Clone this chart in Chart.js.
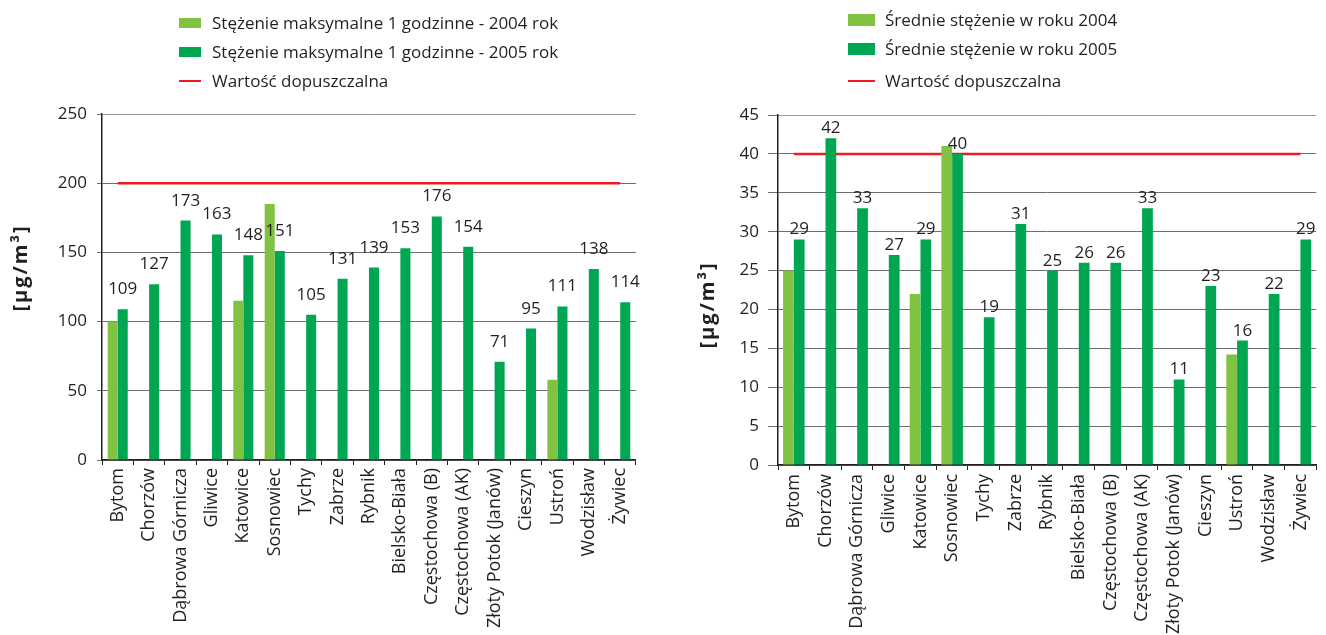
<!DOCTYPE html>
<html lang="pl">
<head>
<meta charset="utf-8">
<title>Stężenia - wykresy</title>
<script src="https://cdn.jsdelivr.net/npm/chart.js@4.4.1/dist/chart.umd.min.js"></script>
<style>
  body { margin: 0; background: #fff; font-family: "Open Sans", sans-serif; color: #231f20; }
  #page { position: relative; width: 1326px; height: 635px; overflow: hidden; }
  canvas { position: absolute; top: 0; }
  #leftChart { left: 0; }
  #rightChart { left: 690px; }
  .legend { position: absolute; font-size: 17px; }
  .legend .row { position: absolute; left: 0; height: 22px; line-height: 22px; white-space: nowrap; }
  .legend .sw { position: absolute; left: 0; }
</style>
</head>
<body>
<div id="page">
  <canvas id="leftChart" width="645" height="635"></canvas>
  <canvas id="rightChart" width="636" height="635"></canvas>
  <div class="legend" id="leftLegend" style="left:179px; top:0;"></div>
  <div class="legend" id="rightLegend" style="left:848px; top:0;"></div>
</div>

<script>
  // categories (same for both charts)
  var cities = ['Bytom', 'Chorzów', 'Dąbrowa Górnicza', 'Gliwice', 'Katowice', 'Sosnowiec', 'Tychy',
    'Zabrze', 'Rybnik', 'Bielsko-Biała', 'Częstochowa (B)', 'Częstochowa (AK)', 'Złoty Potok (Janów)',
    'Cieszyn', 'Ustroń', 'Wodzisław', 'Żywiec'];

  // left chart - 1h max
  var max2004 = [100, null, null, null, 115, 185, null, null, null, null, null, null, null, null, 58, null, null];
  var max2005 = [109, 127, 173, 163, 148, 151, 105, 131, 139, 153, 176, 154, 71, 95, 111, 138, 114];
  var limitMax = [200, 200, 200, 200, 200, 200, 200, 200, 200, 200, 200, 200, 200, 200, 200, 200, 200];

  // right chart - yearly average
  var avg2004 = [25, null, null, null, 22, 41, null, null, null, null, null, null, null, null, 14.2, null, null];
  var avg2005 = [29, 42, 33, 27, 29, 40, 19, 31, 25, 26, 26, 33, 11, 23, 16, 22, 29];
  var limitAvg = [40, 40, 40, 40, 40, 40, 40, 40, 40, 40, 40, 40, 40, 40, 40, 40, 40];

  var leftNames = ['Stężenie maksymalne 1 godzinne - 2004 rok', 'Stężenie maksymalne 1 godzinne - 2005 rok', 'Wartość dopuszczalna'];
  var rightNames = ['Średnie stężenie w roku 2004', 'Średnie stężenie w roku 2005', 'Wartość dopuszczalna'];
  var unitLabel = '[µg/m³]';

  var light = '#80c342';
  var dark = '#00a651';
  var red = '#ed1c24';
  var ink = '#231f20';

  // numbers above the 2005 bars + rotated unit label
  var extraText = {
    id: 'extraText',
    afterDatasetsDraw: function(chart, args, opts) {
      var meta = chart.getDatasetMeta(1);
      var vals = chart.data.datasets[1].data;
      var ctx = chart.ctx;
      ctx.save();
      ctx.font = '17px "Open Sans"';
      ctx.fillStyle = ink;
      ctx.textAlign = 'center';
      ctx.textBaseline = 'alphabetic';
      meta.data.forEach(function(bar, i) {
        if (vals[i] == null) return;
        ctx.fillText(String(vals[i]), bar.x, bar.y - opts.gap);
      });
      ctx.restore();

      ctx.save();
      ctx.translate(opts.unitX, opts.unitY);
      ctx.rotate(-Math.PI / 2);
      ctx.font = 'bold 20px "Open Sans"';
      if ('letterSpacing' in ctx) ctx.letterSpacing = '2px';
      ctx.fillStyle = ink;
      ctx.textAlign = 'center';
      ctx.textBaseline = 'middle';
      ctx.fillText(unitLabel, 0, 0);
      ctx.restore();
    }
  };

  function makeChart(el, opt) {
    var n = cities.length;
    return new Chart(el, {
      type: 'bar',
      data: {
        labels: cities,
        datasets: [{
          label: opt.names[0],
          data: opt.d2004,
          backgroundColor: light,
          categoryPercentage: opt.catPct,
          barPercentage: 1,
          order: 1
        }, {
          label: opt.names[1],
          data: opt.d2005,
          backgroundColor: dark,
          categoryPercentage: opt.catPct,
          barPercentage: 1,
          order: 1
        }, {
          type: 'line',
          label: opt.names[2],
          data: opt.limit,
          borderColor: red,
          borderWidth: 2.5,
          pointRadius: 0,
          fill: false,
          order: 2
        }]
      },
      options: {
        responsive: false,
        animation: false,
        layout: { padding: { top: opt.top, right: opt.padRight, bottom: 0, left: 0 } },
        plugins: {
          legend: { display: false },
          tooltip: { enabled: false },
          extraText: { gap: opt.gap, unitX: opt.unitX, unitY: opt.unitY }
        },
        scales: {
          x: {
            ticks: {
              autoSkip: false, maxRotation: 90, minRotation: 90,
              color: ink, font: { family: '"Open Sans"', size: 18 }, padding: opt.xPad
            },
            grid: {
              offset: true,
              drawOnChartArea: true,
              color: function(c) { return (opt.rightBorder && c.index === n) ? '#9a9a9a' : 'rgba(0,0,0,0)'; },
              tickColor: ink,
              tickLength: 5
            },
            border: { color: ink, width: 1.5 },
            afterFit: function(s) { s.height = opt.xHeight; }
          },
          y: {
            min: 0, max: opt.max,
            ticks: { stepSize: opt.step, color: ink, font: { family: '"Open Sans"', size: 17 }, padding: opt.tickPad },
            grid: {
              color: function(c) { return c.tick && c.tick.value === opt.max ? '#9a9a9a' : '#6d6e71'; },
              tickColor: '#6d6e71',
              tickLength: opt.tickLen
            },
            border: { color: ink, width: 1.5 },
            afterFit: function(s) { s.width = opt.yWidth; }
          }
        }
      },
      plugins: [extraText]
    });
  }

  makeChart(document.getElementById('leftChart'), {
    names: leftNames, d2004: max2004, d2005: max2005, limit: limitMax,
    max: 250, step: 50, top: 114, padRight: 6, xHeight: 175, yWidth: 102,
    tickLen: 5, tickPad: 10, gap: 15, catPct: 0.64, xPad: 3, rightBorder: true,
    unitX: 21, unitY: 268
  });

  makeChart(document.getElementById('rightChart'), {
    names: rightNames, d2004: avg2004, d2005: avg2005, limit: limitAvg,
    max: 45, step: 5, top: 115, padRight: 0, xHeight: 170, yWidth: 88,
    tickLen: 10, tickPad: 9, gap: 5, catPct: 0.68, xPad: 4, rightBorder: false,
    unitX: 18, unitY: 305
  });

  // legends
  function buildLegend(id, names, rows, sw) {
    var box = document.getElementById(id);
    var colors = [light, dark, red];
    names.forEach(function(name, i) {
      var row = document.createElement('div');
      row.className = 'row';
      row.style.top = (rows[i] - 11) + 'px';
      row.style.paddingLeft = sw.textX + 'px';
      row.textContent = name;
      var s = document.createElement('span');
      s.className = 'sw';
      var h = i < 2 ? sw.h : 2;
      s.style.width = sw.w + 'px';
      s.style.height = h + 'px';
      s.style.top = (11 - h / 2) + 'px';
      s.style.background = colors[i];
      row.appendChild(s);
      box.appendChild(row);
    });
  }
  buildLegend('leftLegend', leftNames, [23, 52, 81], { w: 22, h: 10, textX: 33 });
  buildLegend('rightLegend', rightNames, [20, 49, 81], { w: 27, h: 12, textX: 37 });
</script>
</body>
</html>
